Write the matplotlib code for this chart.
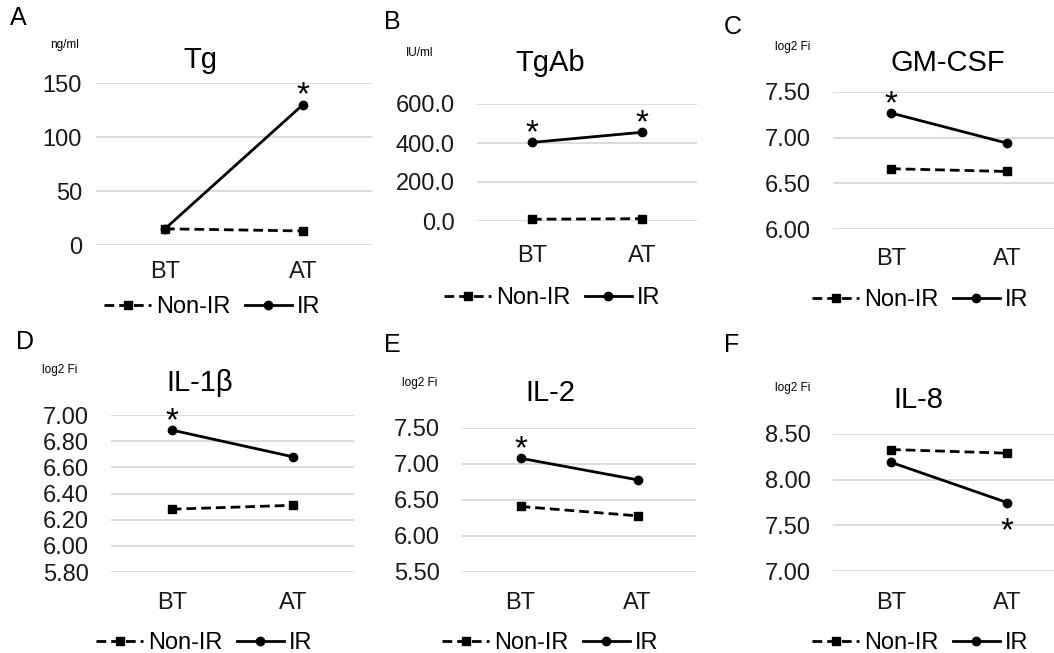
import matplotlib
matplotlib.use("Agg")
import matplotlib.pyplot as plt

plt.rcParams['font.family'] = ['Liberation Sans', 'DejaVu Sans']

W, H = 1054, 653

# DATA
times = ["BT", "AT"]
panels = ["A", "B", "C", "D", "E", "F"]
titles = ["Tg", "TgAb", "GM-CSF", "IL-1β", "IL-2", "IL-8"]
units = ["ng/ml", "IU/ml", "log2 Fi", "log2 Fi", "log2 Fi", "log2 Fi"]
non_ir = [[15, 13], [9, 12], [6.66, 6.63], [6.28, 6.31], [6.41, 6.28], [8.33, 8.29]]
ir = [[15, 130], [403, 455], [7.27, 6.94], [6.885, 6.68], [7.08, 6.78], [8.19, 7.75]]
yticks = [[0, 50, 100, 150],
          [0, 200, 400, 600],
          [6.0, 6.5, 7.0, 7.5],
          [5.8, 6.0, 6.2, 6.4, 6.6, 6.8, 7.0],
          [5.5, 6.0, 6.5, 7.0, 7.5],
          [7.0, 7.5, 8.0, 8.5]]
yfmt = ["{:.0f}", "{:.1f}", "{:.2f}", "{:.2f}", "{:.2f}", "{:.2f}"]
# which IR points carry a significance star (index, above/below)
stars = [[(1, 1)], [(0, 1), (1, 1)], [(0, 1)], [(0, 1)], [(0, 1)], [(1, -1)]]

# LAYOUT (pixels: left, right, top, bottom of plot area)
boxes = [(96, 372, 83, 245), (477, 697, 104, 221), (833, 1065, 92, 229),
         (111, 354, 415, 572), (462, 696, 428, 572), (833, 1065, 434, 571)]
ypads = [10, 16, 16, 16, 16, 16]
xlab_y = [271, 255, 258, 602, 602, 602]
letter_xy = [(18, 18), (392, 22), (733, 27), (25, 342), (392, 345), (732, 345)]
unit_xy = [(65, 45), (420, 53), (793, 47), (60, 370), (420, 383), (793, 388)]
title_xy = [(200, 60), (550, 63), (948, 63), (200, 383), (550, 393), (918, 400)]
leg_xy = [(212, 307), (552, 298), (920, 300), (204, 643), (550, 643), (920, 643)]

fig = plt.figure(figsize=(W / 100, H / 100), dpi=100)

for i in range(6):
    l, r, t, b = boxes[i]
    ax = fig.add_axes([l / W, 1 - b / H, (r - l) / W, (b - t) / H])
    x = [0, 1]
    ax.plot(x, non_ir[i], color="black", lw=2.0, ls=(0, (3.5, 1.8)), marker="s",
            ms=5.5, label="Non-IR", clip_on=False, zorder=3)
    ax.plot(x, ir[i], color="black", lw=2.0, marker="o", ms=6,
            label="IR", clip_on=False, zorder=3)
    for k, d in stars[i]:
        ax.annotate("*", (k, ir[i][k]), xytext=(0, 0 if d > 0 else -27),
                    textcoords="offset points", ha="center", va="baseline",
                    fontsize=24)
    ax.set_xlim(-0.5, 1.5)
    ax.set_ylim(yticks[i][0], yticks[i][-1])
    ax.set_yticks(yticks[i])
    ax.set_yticklabels([yfmt[i].format(v) for v in yticks[i]], fontsize=17)
    ax.set_xticks(x)
    ax.set_xticklabels(times, fontsize=17)
    ax.tick_params(length=0, colors="#1a1a1a")
    ax.tick_params(axis="y", pad=ypads[i])
    ax.tick_params(axis="x", pad=(xlab_y[i] - b - 10) * 0.72)
    ax.grid(axis="y", color="#d9d9d9", lw=1.3)
    ax.set_axisbelow(True)
    for s in ax.spines.values():
        s.set_visible(False)
    ax.patch.set_alpha(0)

    fig.text(letter_xy[i][0] / W, 1 - letter_xy[i][1] / H, panels[i],
             fontsize=18, ha="center", va="center")
    fig.text(unit_xy[i][0] / W, 1 - unit_xy[i][1] / H, units[i],
             fontsize=8.5, ha="center", va="center")
    fig.text(title_xy[i][0] / W, 1 - title_xy[i][1] / H, titles[i],
             fontsize=21, ha="center", va="center")
    fig.legend(*ax.get_legend_handles_labels(), loc="center",
               bbox_to_anchor=(leg_xy[i][0] / W, 1 - leg_xy[i][1] / H),
               ncol=2, frameon=False, fontsize=17, handlelength=2.0,
               handletextpad=0.2, columnspacing=0.6, borderpad=0)

fig.savefig("out.png", dpi=100)
